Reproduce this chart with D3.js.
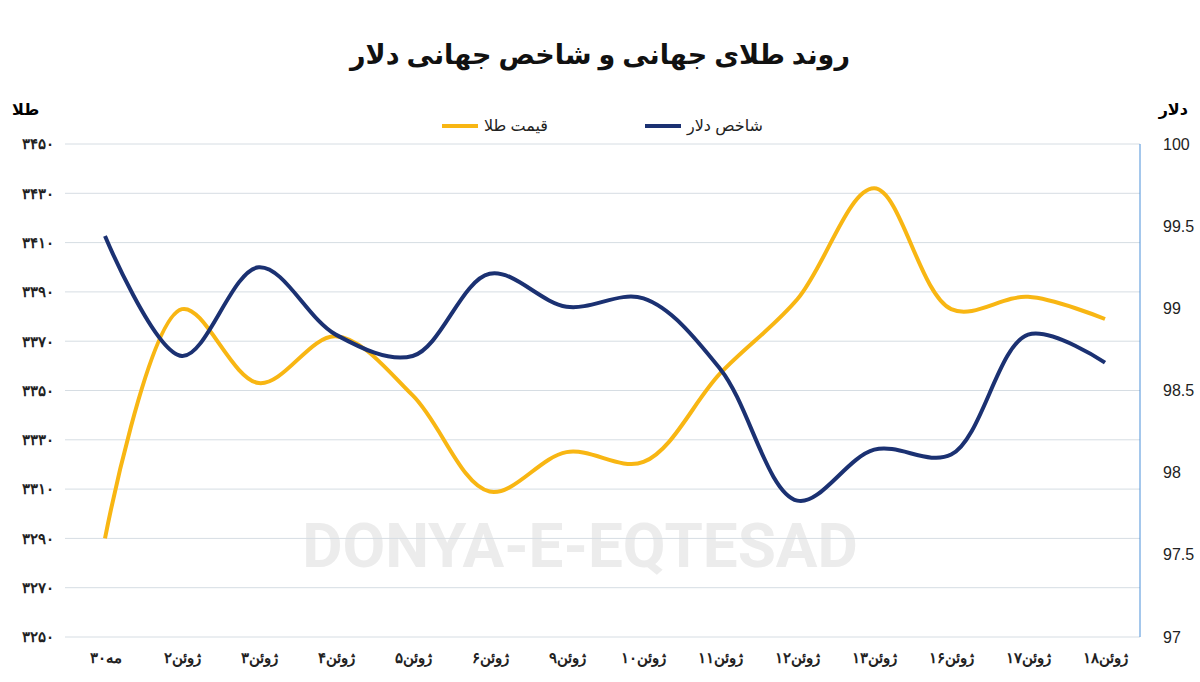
<!DOCTYPE html>
<html><head><meta charset="utf-8">
<script src="https://cdn.jsdelivr.net/npm/d3@7"></script>
<style>body{margin:0;background:#fff;font-family:"Noto Sans","DejaVu Sans",sans-serif}</style>
</head><body><div id="chart"></div>
<script>
const width = 1200, height = 682;
const categories = ["۳۰مه","۲ژوئن","۳ژوئن","۴ژوئن","۵ژوئن","۶ژوئن","۹ژوئن","۱۰ژوئن","۱۱ژوئن","۱۲ژوئن","۱۳ژوئن","۱۶ژوئن","۱۷ژوئن","۱۸ژوئن"];
const gold = [3290, 3383, 3353, 3372, 3348, 3309, 3325, 3321, 3357, 3387, 3432, 3383, 3388, 3379];
const dollar = [99.44, 98.71, 99.25, 98.84, 98.71, 99.21, 99.01, 99.06, 98.63, 97.83, 98.14, 98.11, 98.84, 98.67];
const goldTicks = [3250,3270,3290,3310,3330,3350,3370,3390,3410,3430,3450];
const dollarTicks = [97,97.5,98,98.5,99,99.5,100];
const fa = n => String(n).replace(/\d/g, d => "۰۱۲۳۴۵۶۷۸۹"[d]);

const svg = d3.select("#chart").append("svg").attr("width", width).attr("height", height);
const mLeft = 65, mRight = 1140, mTop = 144, mBottom = 637;

const x = d3.scalePoint().domain(categories).range([105, 1105]);
const yG = d3.scaleLinear().domain([3250, 3450]).range([mBottom, mTop]);
const yD = d3.scaleLinear().domain([97, 100]).range([mBottom, mTop]);

// watermark
svg.append("text").attr("x", 580).attr("y", 567).attr("text-anchor", "middle")
  .attr("font-size", 62).attr("font-weight", "bold").attr("fill", "#ececec")
  .attr("font-family", "Roboto, sans-serif").text("DONYA-E-EQTESAD");

svg.append("g").selectAll("line").data(goldTicks).enter().append("line")
  .attr("x1", mLeft).attr("x2", mRight).attr("y1", d => yG(d)).attr("y2", d => yG(d))
  .attr("stroke", "#d6dde3").attr("stroke-width", 1);

svg.append("line").attr("x1", mRight).attr("x2", mRight).attr("y1", mTop).attr("y2", mBottom)
  .attr("stroke", "#4a90d9").attr("stroke-width", 1);

const gl = svg.append("g").attr("transform", `translate(${mLeft - 8},0)`)
  .call(d3.axisLeft(yG).tickValues(goldTicks).tickSize(0).tickFormat(fa));
const gr = svg.append("g").attr("transform", `translate(${mRight + 20},0)`)
  .call(d3.axisRight(yD).tickValues(dollarTicks).tickSize(0).tickFormat(d => d));
const gx = svg.append("g").attr("transform", `translate(0,${mBottom + 12})`)
  .call(d3.axisBottom(x).tickSize(0));
[gl, gr, gx].forEach(g => {
  g.select(".domain").remove();
  g.selectAll("text").attr("font-size", 15).attr("font-weight", "bold").attr("fill", "#222");
});
gr.selectAll("text").attr("font-weight", "normal").attr("font-size", 16);

const line = (ys, vals) => d3.line().x((d, i) => x(categories[i])).y(d => ys(d)).curve(d3.curveCatmullRom)(vals);
svg.append("path").attr("d", line(yG, gold)).attr("fill", "none").attr("stroke", "#f8b613").attr("stroke-width", 4);
svg.append("path").attr("d", line(yD, dollar)).attr("fill", "none").attr("stroke", "#1b3172").attr("stroke-width", 4);

svg.append("text").attr("x", 600).attr("y", 64).attr("text-anchor", "middle").attr("font-size", 27)
  .attr("font-weight", "bold").attr("fill", "#111").attr("direction", "rtl").text("روند طلای جهانی و شاخص جهانی دلار");
svg.append("text").attr("x", 12).attr("y", 115).attr("font-size", 16).attr("font-weight", "bold").text("طلا");
svg.append("text").attr("x", 1188).attr("y", 115).attr("text-anchor", "end").attr("font-size", 16).attr("font-weight", "bold").text("دلار");

const legend = [["قیمت طلا", "#f8b613", 442], ["شاخص دلار", "#1b3172", 645]];
legend.forEach(([t, c, lx]) => {
  svg.append("line").attr("x1", lx).attr("x2", lx + 36).attr("y1", 126).attr("y2", 126).attr("stroke", c).attr("stroke-width", 4);
  svg.append("text").attr("x", lx + 42).attr("y", 131).attr("font-size", 16).attr("fill", "#222").text(t);
});
</script></body></html>
